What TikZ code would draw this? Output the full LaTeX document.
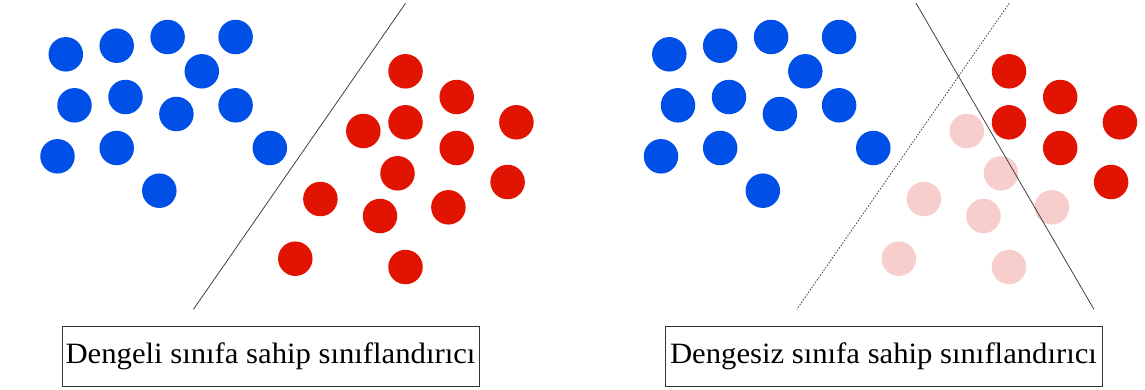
\documentclass[tikz,border=0pt]{standalone}
\usepackage{fontspec}
\setmainfont{Liberation Serif}
\newfontfamily\capfont{Liberation Serif}[FakeStretch=1.04]
\definecolor{ptblue}{RGB}{0,80,232}
\definecolor{ptred}{RGB}{224,20,0}
\definecolor{ptpink}{RGB}{247,206,204}
\begin{document}
\begin{tikzpicture}[x=1pt,y=-1pt,
  dot/.style={circle,inner sep=0pt,minimum size=34.5pt},
  bluedot/.style={dot,fill=ptblue},
  reddot/.style={dot,fill=ptred},
  fadedot/.style={dot,fill=ptpink},
  sepline/.style={line width=0.8pt,black!75},
  capbox/.style={draw=black!80,line width=0.8pt,minimum height=60pt,inner sep=0pt,font=\capfont\fontsize{29.5}{34}\selectfont}]
\useasboundingbox (0,0) rectangle (1145,389);
% left: balanced classes
\foreach \x/\y [count=\i] in {65.8/54.3,116.7/45.7,167.6/37,235.6/37,201.8/71.3,74.5/105.3,125.5/97,176.4/114,235.6/105.3,57.5/156.3,116.7/148,269.8/148,159.3/190.7}
  \node[bluedot] (lb\i) at (\x,\y) {};
\foreach \x/\y [count=\i] in {405.5/71.3,456.7/97,405.5/122.3,363.3/131,516.4/122.3,456.7/148,397.5/173.3,507.6/182,320.4/199,380/216,448.4/207.3,295.3/258.7,405.5/267}
  \node[reddot] (lr\i) at (\x,\y) {};
\coordinate (la) at (405.5,3.3);
\coordinate (lz) at (193.5,309.3);
\draw[sepline] (la) -- (lz);
\node[capbox,minimum width=417pt] (capL) at (270.5,356) {Dengeli sınıfa sahip sınıflandırıcı};
% right: imbalanced classes
\begin{scope}[xshift=603.5pt]
\foreach \x/\y [count=\i] in {65.8/54.3,116.7/45.7,167.6/37,235.6/37,201.8/71.3,74.5/105.3,125.5/97,176.4/114,235.6/105.3,57.5/156.3,116.7/148,269.8/148,159.3/190.7}
  \node[bluedot] (rb\i) at (\x,\y) {};
\foreach \x/\y [count=\i] in {363.3/131,397.5/173.3,320.4/199,380/216,448.4/207.3,295.3/258.7,405.5/267}
  \node[fadedot] (rf\i) at (\x,\y) {};
\foreach \x/\y [count=\i] in {405.5/71.3,456.7/97,405.5/122.3,516.4/122.3,456.7/148,507.6/182}
  \node[reddot] (rr\i) at (\x,\y) {};
\end{scope}
\coordinate (ra) at (916.1,3.3);
\coordinate (rz) at (1093.9,309.3);
\coordinate (da) at (1009.2,3.3);
\coordinate (dz) at (796.8,309.3);
\draw[sepline,dash pattern=on 1.5pt off 1.5pt] (da) -- (dz);
\draw[sepline] (ra) -- (rz);
\node[capbox,minimum width=437pt] (capR) at (883.5,356) {Dengesiz sınıfa sahip sınıflandırıcı};
\end{tikzpicture}
\end{document}
